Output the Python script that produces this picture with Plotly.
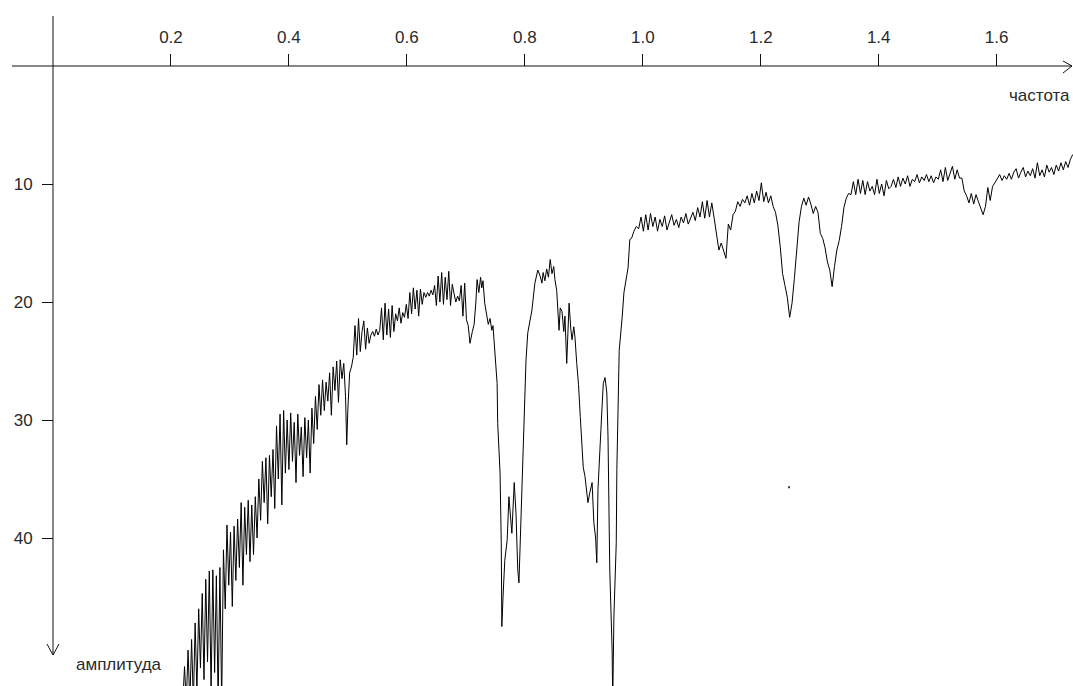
import numpy as np
import plotly.graph_objects as go

# ---------------- data ----------------
# Segment A: noisy rising part, regular sampling from 0.220, step 0.003
a_start, a_step = 0.220, 0.003
amp_a = [
    54, 50.9, 54, 49.5, 54, 48.6, 54, 47.2, 53, 46,
    51, 44.7, 52, 43.5, 50.5, 42.8, 53, 42.7, 51.4, 43.2,
    54, 42.5, 54, 41, 46, 38.9, 44, 39.5, 45.8, 39,
    43.6, 38.4, 42.5, 37, 44, 37.4, 41.4, 36.8, 42, 37.2,
    41.4, 36.5, 40, 35, 38.5, 33.5, 37, 33.2, 38.8, 33,
    36.5, 32.5, 37.5, 30.5, 35, 29.5, 37.2, 29.2, 34.5, 30,
    34.2, 29.4, 33.5, 30.2, 35.3, 29.5, 33, 30.6, 34.8, 29.8,
    33.2, 30, 34.5, 29, 32, 28, 30.8, 27, 29.6, 26.6,
    29.2, 26.8, 28.4, 26, 29.6, 25.5, 27.5, 25, 28.5, 24.9,
]

# Segment B: small dip near 0.5
freq_b = [0.490, 0.493, 0.496, 0.498, 0.500, 0.503, 0.506, 0.509]
amp_b = [26.5, 25.2, 28.0, 32.1, 29.0, 26.0, 25.5, 24.7]

# Segment C: noisy plateau, regular sampling from 0.512, step 0.003
c_start, c_step = 0.512, 0.003
amp_c = [
    22, 24.5, 21.4, 24.2, 22.5, 21.6, 24, 22.2, 23.5, 22.8,
    22.5, 22.9, 22.3, 22.8, 22.4, 20.5, 23.2, 20.1, 22.8, 20.6,
    23, 20.3, 22.5, 21, 21.6, 20.5, 21.8, 20.9, 21.3, 20.2,
    21.4, 19.2, 21, 18.8, 20.6, 19, 21.2, 18.9, 20.2, 19.2,
    19.6, 19.2, 19.5, 19.0, 19.4, 18.6, 20.3, 17.8, 20, 17.5,
    20.2, 17.9, 19.8, 17.4, 20.3, 18.5, 19.3, 20, 19.5, 19.9,
    18.6, 21.2, 18.4, 21.5,
]

# Segment D: deep absorption dips 0.70 - 0.98
freq_d = [
    0.704, 0.707, 0.711, 0.714, 0.717, 0.719, 0.722, 0.725, 0.727, 0.729,
    0.732, 0.735, 0.738, 0.741, 0.744, 0.746, 0.749, 0.753, 0.754, 0.758,
    0.760, 0.761, 0.763, 0.766, 0.770, 0.773, 0.778, 0.782, 0.785, 0.788,
    0.790, 0.793, 0.797, 0.799, 0.802, 0.805, 0.809, 0.812, 0.817, 0.822,
    0.826, 0.829, 0.831, 0.834, 0.837, 0.840, 0.843, 0.846, 0.849, 0.851,
    0.854, 0.856, 0.858, 0.860, 0.863, 0.866, 0.868, 0.871, 0.873, 0.875,
    0.878, 0.880, 0.883, 0.885, 0.888, 0.891, 0.894, 0.899, 0.902, 0.905,
    0.907, 0.910, 0.914, 0.917, 0.920, 0.922, 0.924, 0.929, 0.933, 0.936,
    0.939, 0.941, 0.944, 0.948, 0.949, 0.951, 0.955, 0.956, 0.960, 0.965,
    0.968, 0.973, 0.975, 0.978,
]
amp_d = [
    22.0, 23.5, 22.5, 21.9, 20.0, 18.1, 19.2, 17.9, 18.8, 18.2,
    20.1, 21.0, 21.9, 21.4, 22.4, 22.0, 24.1, 26.9, 30.3, 34.5,
    40.4, 47.5, 45.0, 41.9, 40.2, 36.5, 39.6, 35.3, 37.9, 42.7,
    43.8, 38.7, 34.0, 29.7, 24.9, 22.6, 21.5, 20.7, 18.4, 17.3,
    17.8, 18.4, 17.5, 18.2, 17.2, 17.9, 16.4, 17.6, 17.0, 18.1,
    19.0, 20.4, 22.4, 20.5, 20.8, 22.5, 21.2, 25.2, 22.0, 20.1,
    22.3, 23.2, 22.1, 23.0, 25.2, 27.0, 29.7, 34.0, 34.8, 36.0,
    37.0, 36.2, 35.3, 38.7, 40.0, 42.1, 35.9, 30.8, 26.9, 26.4,
    27.7, 31.4, 42.7, 49.5, 54.0, 46.7, 40.4, 34.2, 24.1, 21.3,
    19.2, 17.7, 17.1, 14.7,
]

# Segment E: upper frequencies, regular sampling from 0.981, step 0.004
e_start, e_step = 0.981, 0.004
amp_e = [
    14.6, 14.0, 13.6, 13.8, 12.8, 14.0, 12.6, 13.9, 12.5, 13.6,
    12.8, 14.0, 13.0, 13.6, 12.7, 13.9, 13.2, 12.6, 13.5, 13.0,
    13.7, 12.8, 13.3, 12.5, 13.4, 12.9, 12.4, 13.1, 12.0, 12.8,
    11.5, 12.9, 11.4, 12.8, 11.6, 12.9, 14.5, 15.6, 15.0, 15.6,
    16.3, 13.4, 13.9, 12.6, 12.3, 11.5, 11.9, 11.3, 11.6, 11.0,
    11.8, 10.8, 11.6, 10.6, 11.4, 9.9, 11.5, 10.7, 11.6, 11.0,
    11.9, 12.4, 13.5, 15.3, 17.6, 18.6, 19.6, 21.3, 20.1, 18.0,
    15.8, 13.2, 11.9, 11.2, 11.8, 11.1, 11.7, 12.5, 11.9, 12.4,
    14.2, 14.6, 15.4, 16.6, 17.3, 18.7, 17.0, 15.6, 14.8, 13.6,
    12.0, 11.2, 10.8, 10.9, 9.8, 10.9, 9.6, 10.8, 9.7, 10.9,
    9.8, 10.6, 10.2, 10.9, 9.6, 10.8, 10.0, 11.0, 9.7, 10.4,
    10.2, 9.6, 10.3, 9.4, 10.2, 9.5, 10.0, 9.3, 10.2, 9.6,
    9.8, 9.2, 9.9, 9.4, 9.7, 9.2, 9.8, 9.3, 9.9, 9.4,
    9.6, 8.8, 9.8, 8.6, 9.7, 9.0, 8.5, 9.6, 8.8, 9.5,
    9.5, 10.6, 11.0, 11.6, 10.8, 11.7, 10.9, 11.5, 12.0, 12.6,
    11.9, 10.3, 11.4, 10.2, 9.9, 9.6, 9.2, 9.7, 9.3, 9.6,
    9.1, 9.6, 9.0, 8.7, 9.5, 9.0, 8.6, 9.4, 8.9, 9.3,
    8.7, 9.5, 8.2, 9.3, 8.8, 9.4, 8.4, 9.0, 8.6, 9.2,
    8.4, 8.9, 8.2, 8.8, 8.1, 8.6, 7.9, 7.5,
]

# stray dot visible in the picture
dot_freq = [1.248]
dot_amp = [35.7]

x_ticks = [0.2, 0.4, 0.6, 0.8, 1.0, 1.2, 1.4, 1.6]
x_tick_text = ["0.2", "0.4", "0.6", "0.8", "1.0", "1.2", "1.4", "1.6"]
y_ticks = [10, 20, 30, 40]
y_tick_text = ["10", "20", "30", "40"]
x_label = "частота"
y_label = "амплитуда"

# ---------------- build series ----------------
freq_a = a_start + a_step * np.arange(len(amp_a))
freq_c = c_start + c_step * np.arange(len(amp_c))
freq_e = e_start + e_step * np.arange(len(amp_e))

freq = np.concatenate([freq_a, freq_b, freq_c, freq_d, freq_e])
amp = np.concatenate([amp_a, amp_b, amp_c, amp_d, amp_e])

# ---------------- geometry ----------------
W, H = 1073, 686
x0_px, x_scale = 53.0, 589.8      # px of freq 0, px per unit
y0_px, y_scale = 66.0, 11.8       # px of amp 0, px per unit
x_range = [-x0_px / x_scale, (W - x0_px) / x_scale]
y_range = [(H - y0_px) / y_scale, -y0_px / y_scale]


def fx(px):
    return (px - x0_px) / x_scale


def fy(py):
    return (py - y0_px) / y_scale


font_family = "Liberation Sans, Arial, sans-serif"
ink = "#000000"
text_col = "#2a2a2a"
fsize = 17

fig = go.Figure()
fig.add_trace(go.Scatter(
    x=freq, y=amp, mode="lines",
    line=dict(color=ink, width=1),
    hoverinfo="skip",
))
fig.add_trace(go.Scatter(
    x=dot_freq, y=dot_amp, mode="markers",
    marker=dict(color="#333333", size=2, symbol="square"),
    hoverinfo="skip",
))

axis_line = dict(color="#111111", width=1)
shapes = [
    # horizontal axis with arrow
    dict(type="line", xref="x", yref="y", x0=fx(12), x1=fx(1072), y0=0, y1=0, line=axis_line),
    dict(type="line", xref="x", yref="y", x0=fx(1063), x1=fx(1072), y0=fy(61), y1=0, line=axis_line),
    dict(type="line", xref="x", yref="y", x0=fx(1063), x1=fx(1072), y0=fy(73), y1=0, line=axis_line),
    # vertical axis with arrow
    dict(type="line", xref="x", yref="y", x0=0, x1=0, y0=fy(16), y1=fy(655), line=axis_line),
    dict(type="line", xref="x", yref="y", x0=fx(47), x1=0, y0=fy(644), y1=fy(655), line=axis_line),
    dict(type="line", xref="x", yref="y", x0=fx(59), x1=0, y0=fy(644), y1=fy(655), line=axis_line),
]

fig.update_layout(
    width=W, height=H,
    margin=dict(l=0, r=0, t=0, b=0),
    paper_bgcolor="white", plot_bgcolor="white",
    showlegend=False,
    shapes=shapes,
    xaxis=dict(
        domain=[0, 1], range=x_range, side="top",
        anchor="free", position=1 - y0_px / H,
        showline=False, showgrid=False, zeroline=False,
        ticks="outside", ticklen=12, tickwidth=1, tickcolor="#111111",
        tickvals=x_ticks, ticktext=x_tick_text,
        tickfont=dict(family=font_family, size=fsize, color=text_col),
        ticklabelstandoff=4,
    ),
    yaxis=dict(
        domain=[0, 1], range=y_range,
        anchor="free", position=x0_px / W, side="left",
        showline=False, showgrid=False, zeroline=False,
        ticks="outside", ticklen=11, tickwidth=1, tickcolor="#111111",
        tickvals=y_ticks, ticktext=y_tick_text,
        tickfont=dict(family=font_family, size=fsize, color=text_col),
        ticklabelstandoff=6,
    ),
    annotations=[
        dict(text=x_label, x=fx(1072), y=fy(95), xref="x", yref="y",
             xanchor="right", yanchor="middle", showarrow=False,
             font=dict(family=font_family, size=fsize, color=text_col)),
        dict(text=y_label, x=fx(74), y=fy(664), xref="x", yref="y",
             xanchor="left", yanchor="middle", showarrow=False,
             font=dict(family=font_family, size=fsize, color=text_col)),
    ],
)

fig.write_html("out.html", config={"displayModeBar": False})
